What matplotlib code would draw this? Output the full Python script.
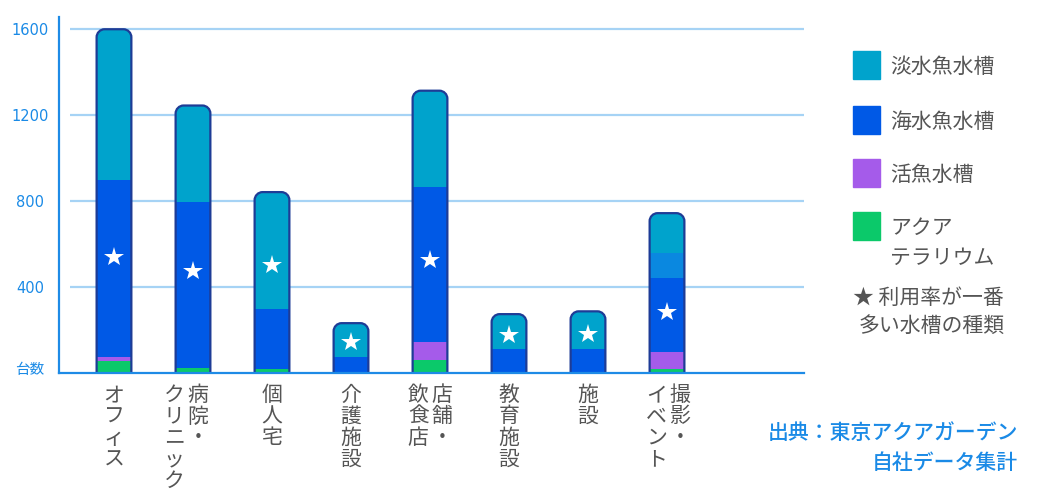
#!/usr/bin/env python3
"""Stacked bar chart of aquarium types by installation site."""

import matplotlib
matplotlib.use("Agg")
import matplotlib.pyplot as plt
from matplotlib.patches import PathPatch, Rectangle
from matplotlib.path import Path
from matplotlib.transforms import ScaledTranslation

# Categories: columns read right to left (vertical Japanese)
categories = ["オフィス", "病院・\nクリニック", "個人宅", "介護施設",
              "店舗・\n飲食店", "教育施設", "施設", "撮影・\nイベント"]

# Stacked values, bottom to top
aquaterrarium = [58, 25, 20, 0, 62, 0, 0, 20]
live_fish = [16, 0, 0, 0, 80, 0, 0, 79]
seawater = [826, 773, 279, 76, 725, 112, 113, 343]
other = [0, 0, 0, 0, 0, 0, 0, 116]
freshwater = [700, 447, 543, 156, 447, 162, 174, 186]

# Height of the star that marks the most used tank type
star_y = [542, 476, 504, 142, 527, 178, 181, 284]

y_ticks = [0, 400, 800, 1200, 1600]
y_ticklabels = ["台数", "400", "800", "1200", "1600"]

legend_labels = ["淡水魚水槽", "海水魚水槽", "活魚水槽", "アクア\nテラリウム"]
star_note = ["★ 利用率が一番", "多い水槽の種類"]
source_lines = ["出典：東京アクアガーデン", "自社データ集計"]

_color = {'fresh': '#00A3CC', 'sea': '#0059E6', 'live': '#A55BEA',
          'terra': '#0BC96A', 'other': '#0A88E0', 'outline': '#1E3C96',
          'grid': '#A6D3F5', 'axis': '#1E8BE6', 'blue_text': '#1A8AE6',
          'gray_text': '#555555'}

W, H = 1044, 500
JP = ['Noto Sans CJK JP', 'DejaVu Sans']


def px(x, y):
    """Pixel coords from top-left to figure fraction."""
    return x / W, 1 - y / H


def rounded_top(c, hw, top, rx, ry):
    k = 0.5523
    verts = [(c - hw, 0), (c - hw, top - ry),
             (c - hw, top - ry + k * ry), (c - hw + rx - k * rx, top), (c - hw + rx, top),
             (c + hw - rx, top),
             (c + hw - rx + k * rx, top), (c + hw, top - ry + k * ry), (c + hw, top - ry),
             (c + hw, 0)]
    codes = [Path.MOVETO, Path.LINETO,
             Path.CURVE4, Path.CURVE4, Path.CURVE4,
             Path.LINETO,
             Path.CURVE4, Path.CURVE4, Path.CURVE4,
             Path.LINETO]
    return verts, codes


def main():
    fig = plt.figure(figsize=(W / 100, H / 100), dpi=100)
    ax = fig.add_axes([59 / W, 127 / H, (804 - 59) / W, (373 - 17) / H])
    n = len(categories)
    xs = list(range(n))
    ax.set_xlim(-0.696, 8.734)
    ax.set_ylim(0, 1657)

    # Grid
    ax.hlines(y_ticks[1:], -0.557, 8.734, color=_color['grid'], lw=1.6, zorder=1)

    # Stacked bars
    width = 0.44
    series = [(aquaterrarium, 'terra'), (live_fish, 'live'), (seawater, 'sea'),
              (other, 'other'), (freshwater, 'fresh')]
    bottoms = [0] * n
    bar_groups = []
    for vals, key in series:
        bars = ax.bar(xs, vals, width, bottom=bottoms, color=_color[key],
                      linewidth=0, zorder=2)
        bar_groups.append(bars)
        bottoms = [b + v for b, v in zip(bottoms, vals)]

    # Rounded tops: clip and outline
    sx = ax.transData.transform((1, 0))[0] - ax.transData.transform((0, 0))[0]
    sy = ax.transData.transform((0, 1))[1] - ax.transData.transform((0, 0))[1]
    r_px = 8
    rx, ry = r_px / sx, r_px / sy
    for i, total in enumerate(bottoms):
        verts, codes = rounded_top(i, width / 2, total, rx, ry)
        clip = PathPatch(Path(verts + [(i - width / 2, 0)],
                              codes + [Path.CLOSEPOLY]),
                         transform=ax.transData)
        for bars in bar_groups:
            bars[i].set_clip_path(clip)
        ax.add_patch(PathPatch(Path(verts, codes), facecolor='none',
                               edgecolor=_color['outline'], lw=1.6, zorder=3))

    # Stars
    ax.plot(xs, star_y, linestyle='none', marker='*', markersize=15,
            color='white', markeredgewidth=0, zorder=4)

    # Axes styling
    for side in ('top', 'right'):
        ax.spines[side].set_visible(False)
    for side in ('left', 'bottom'):
        ax.spines[side].set_color(_color['axis'])
        ax.spines[side].set_linewidth(1.6)
        ax.spines[side].set_zorder(5)
    ax.set_xticks([])
    ax.set_yticks(y_ticks, labels=y_ticklabels)
    ax.tick_params(axis='y', length=0, pad=20.9, colors=_color['blue_text'],
                   labelsize=10.5)
    for lab in ax.get_yticklabels():
        lab.set_ha('center')
        lab.set_family(JP[::-1])
    ax.get_yticklabels()[0].set_transform(
        ax.get_yticklabels()[0].get_transform()
        + ScaledTranslation(0, 0.05, fig.dpi_scale_trans))

    # Vertical category labels
    label_dx = [0, -7, 0, 0, 0, 0, 0, 1]
    step = 21.5
    col_gap = 23.5
    for i, name in enumerate(categories):
        cx = ax.transData.transform((i, 0))[0] + label_dx[i]
        cols = name.split("\n")
        offs = [0.0] if len(cols) == 1 else [col_gap / 2, -col_gap / 2]
        for col, off in zip(cols, offs):
            for j, ch in enumerate(col):
                fig.text(*px(cx + off, 395 + j * step), ch, ha='center',
                         va='center', fontsize=15, family=JP,
                         color=_color['gray_text'])

    # Legend
    leg_colors = [_color['fresh'], _color['sea'], _color['live'], _color['terra']]
    leg_y = [65, 120, 173, 226]
    for lab, col, yc in zip(legend_labels, leg_colors, leg_y):
        x0, y0 = px(853, yc + 13.5)
        fig.patches.append(Rectangle((x0, y0), 27 / W, 27 / H, color=col,
                                     transform=fig.transFigure))
        for k, line in enumerate(lab.split("\n")):
            fig.text(*px(890, yc + 2 + k * 30), line, ha='left', va='center',
                     fontsize=15, family=JP, color=_color['gray_text'])
    fig.text(*px(853, 298), star_note[0], ha='left', va='center', fontsize=15,
             family=JP, color=_color['gray_text'])
    fig.text(*px(859, 326), star_note[1], ha='left', va='center', fontsize=15,
             family=JP, color=_color['gray_text'])

    # Source
    for k, line in enumerate(source_lines):
        fig.text(*px(1018, 433 + k * 30), line, ha='right', va='center',
                 fontsize=15, family=JP, color=_color['blue_text'],
                 fontweight='medium')

    fig.savefig("out.png", dpi=100)
    plt.close(fig)


if __name__ == '__main__':
    main()
